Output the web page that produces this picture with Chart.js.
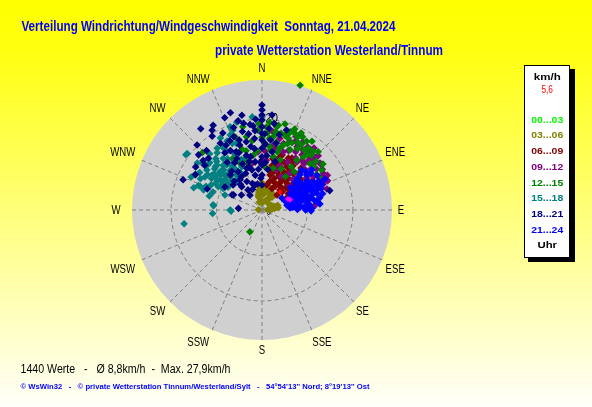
<!DOCTYPE html>
<html>
<head>
<meta charset="utf-8">
<script src="https://cdn.jsdelivr.net/npm/chart.js@4.4.1/dist/chart.umd.min.js"></script>
<style>
  html, body { margin: 0; padding: 0; overflow: hidden; background: #ffff80; }
  canvas { display: block; }
</style>
</head>
<body>
<canvas id="rose" width="592" height="407"></canvas>
<script>
// compass labels, ring ticks, outer edge of the rose in km/h
const directionLabels = ["N","NNE","NE","ENE","E","ESE","SE","SSE","S","SSW","SW","WSW","W","WNW","NW","NNW"];
const ringTicks = [10, 20];
const scaleMax = 28.6;

// legend (3-hour blocks) and current value
const timeLabels = ["00...03","03...06","06...09","09...12","12...15","15...18","18...21","21...24"];
const currentValue = "5,6";

// minute samples: [direction in degrees, speed km/h]
const h00_03 = [[72,2.4],[78,2.8],[68,2.1]];
const h03_06 = [[0,6.0],[358,5.5],[355,5.0],[352,4.5],[350,4.0],[348,3.5],[345,3.0],[350,2.5],[2,4.2],[5,3.5],
  [10,4.6],[15,4.9],[20,5.2],[25,4.4],[28,3.8],[30,3.0],[22,2.4],[35,2.0],[60,2.2],[70,2.6],[75,3.0],[78,3.3],
  [82,3.6],[80,2.0],[85,1.6],[88,1.2],[275,0.8],[340,1.8],[0,1.5],[40,4.2],[38,3.6],[8,5.3],[3,5.1],
  [1,5.7],[357,4.8],[354,4.2],[351,3.8],[347,3.2],[358,3.4],[12,4.0],[18,4.5],[24,4.9],[33,3.3],[76,2.4],
  [83,2.8],[73,3.6],[86,2.2]];
const h06_09 = [[13,10.1],[22,9.0],[34,7.9],[36,9.5],[50,8.6],[49,10.1],[42,5.9],[23,6.7],[35,10.7],[25,11.6],
  [13,7.9],[61,10.0],[65,7.8],[64,6.1],[45,4.7],[11,5.6],[45,11.8],[32,12.4],[56,11.9],[20,12.9],[28,8.2],
  [40,9.0],[55,9.5],[30,11.0],[18,10.5],[47,7.2],[58,6.8],
  [10,9.0],[12,11.5],[15,6.5],[16,8.6],[18,12.0],[21,7.4],[24,10.2],[26,8.5],[27,12.8],[29,6.0],[31,9.6],
  [33,7.0],[35,11.9],[38,8.2],[39,6.6],[41,10.6],[43,12.6],[44,8.0],[46,9.8],[48,6.0],[52,10.9],[53,7.5],
  [57,8.3],[60,9.0],[62,11.2],[30,13.2],[20,11.0],[25,5.2]];
const h09_12 = [[52,16.4],[62,14.9],[67,14.4],[38,17.1],[44,16.3],[85,11.7],[67,14.6],[8,17.4],[25,17.8],[36,17.1],
  [45,16.5],[13,13.9],[18,15.4],[5,11.0],[0,11.0],[50,8.0],[59,15.7],[44,15.2],[45,12.4],[51,16.4],[27,18.5],
  [20,13.6],[348,10.5],[36,13.1],[38,16.4],[37,10.1],[59,11.4],[61,15.3],[20,9.4],[30,14.8],[42,13.8],[55,13.5],[28,12.0],
  [22,16.2],[24,14.3],[26,16.8],[29,15.9],[31,17.5],[33,13.6],[34,16.0],[36,15.0],[39,14.0],[40,17.8],[41,15.8],
  [43,14.6],[46,17.2],[47,13.0],[48,15.6],[50,14.2],[53,15.0],[54,12.2],[56,16.0],[57,13.6],[60,12.6],[62,16.3],
  [64,13.2],[66,15.8],[70,14.0],[72,15.0],[10,14.5],[14,16.2],[3,13.0],[16,11.5],[356,12.8],
  [30,8.5],[22,10.5],[45,9.5]];
const h12_15 = [[17,28.7],[209,5.5],[314,18.2],[3,18.3],[10,17.5],[23,18.4],[28,16.8],[36,18.7],[41,17.1],[56,15.8],
  [57,14.3],[20,16.8],[18,15.0],[7,14.0],[12,12.0],[25,14.6],[38,14.8],[46,14.7],[35,13.4],[4,9.5],[351,12.2],
  [344,10.7],[335,11.3],[71,8.9],[65,10.4],[20,11.7],[17,17.2],[357,17.6],[347,18.8],[45,12.4],[34,11.5],[27,19.0],
  [20,18.3],[10,18.6],[30,15.6],[15,13.2],[342,14.0],[330,13.0],[329,9.0],[340,11.7],
  [0,16.0],[2,14.8],[4,17.0],[5,19.3],[6,15.8],[8,13.2],[9,16.4],[11,19.0],[12,15.2],[14,17.4],[15,19.6],
  [16,14.2],[19,17.8],[21,15.6],[22,19.2],[24,16.2],[26,17.8],[29,18.4],[31,16.8],[33,18.0],[35,16.2],[37,17.0],
  [39,15.8],[42,16.2],[44,17.8],[48,16.0],[50,14.8],[53,16.8],[60,14.5],[352,15.4],[355,13.0],[348,16.5],
  [340,17.0],[345,13.5],[358,19.0],[25,10.0],[35,9.0],[15,9.5],[40,11.0]];
const h15_18 = [[0,20.5],[354,20.6],[306,20.7],[306,17.6],[291,15.0],[306,13.2],[317,14.6],[323,14.2],[339,19.6],[340,18.7],
  [337,17.9],[330,18.3],[329,15.0],[324,16.8],[317,16.9],[313,14.0],[312,12.5],[305,10.8],[322,12.6],[325,11.1],
  [320,8.6],[292,8.8],[276,10.8],[270,7.0],[266,10.9],[291,14.6],[289,13.6],[335,10.5],[345,11.8],[339,15.7],
  [306,15.0],[302,13.1],[298,10.9],[308,9.4],[260,17.4],[268,6.8],[275,10.7],[307,20.6],[344,20.1],[315,12.4],
  [315,10.9],[315,14.0],[326,11.9],[305,13.4],[302,10.4],[309,15.6],[304,11.9],[315,9.3],[298,16.6],[310,12.0],
  [320,13.0],[300,14.5],[285,12.0],[330,9.5],
  [296,12.5],[297,15.2],[299,9.8],[300,11.8],[301,16.0],[303,14.3],[304,9.0],[306,11.0],[307,12.8],[308,16.5],
  [310,10.5],[311,13.8],[312,15.5],[313,11.2],[314,8.5],[316,12.2],[317,10.2],[318,15.2],[319,13.0],[321,11.2],
  [322,16.0],[324,9.6],[326,13.6],[327,10.6],[328,16.2],[331,12.2],[333,17.0],[334,13.8],[336,16.0],[338,12.0],
  [290,11.5],[293,13.4],[288,15.8],[295,17.2]];
const h18_21 = [[0,23.1],[0,22.0],[342,22.5],[338,21.9],[348,21.3],[323,22.4],[330,21.5],[328,20.7],[348,19.5],[354,18.6],
  [0,20.9],[0,19.8],[0,18.3],[0,16.9],[0,15.4],[0,13.6],[0,11.7],[0,9.9],[0,7.7],[0,5.5],[354,15.8],[353,13.6],
  [352,10.7],[349,7.8],[347,15.4],[344,12.5],[340,9.8],[332,7.1],[341,15.1],[334,12.6],[328,9.9],[319,6.8],
  [339,17.3],[331,16.3],[328,17.3],[317,17.9],[310,16.9],[314,16.4],[291,18.6],[298,16.6],[308,16.0],[318,10.4],
  [311,8.4],[298,7.1],[274,5.2],[306,5.6],[321,4.2],[302,9.6],[74,15.5],[17,18.4],[13,17.0],[5,18.0],[7,15.5],
  [344,5.7],[325,5.4],[324,8.2],[297,7.4],[346,9.1],[291,12.9],[5,12.0],[8,9.0],[3,14.5],[350,17.0],[336,14.0],
  [345,11.0],[358,10.5],[10,13.0],
  [356,20.0],[355,17.5],[352,19.0],[350,14.2],[348,12.0],[346,17.8],[345,20.3],[343,9.8],[342,16.2],[341,19.2],
  [338,13.6],[337,11.0],[336,8.8],[335,16.8],[333,19.0],[332,14.8],[330,12.0],[328,8.6],[327,15.0],[326,19.6],
  [324,13.0],[322,10.8],[316,8.8],[315,20.2],[311,18.5],[303,17.4],[358,7.0],[355,9.0],[350,5.8],[340,6.2],
  [2,16.8],[4,10.5],[8,19.2],[12,15.0],[15,11.0],[6,21.0],[335,5.0],[320,7.4]];
const h21_24 = [[72,6.9],[67,8.4],[73,9.2],[68,10.6],[73,11.5],[70,12.9],[84,10.6],[59,10.7],[54,10.4],[67,14.3],
  [64,15.4],[91,10.8],[79,5.6],[56,7.9],[48,10.4],[52,12.5],[62,13.0],[59,5.1],[86,6.2],[82,8.0],[78,13.0],
  [58,14.3],[51,14.1],[45,12.4],[87,9.9],[74,7.9],[71,5.7],[78,10.4],[81,12.2],[65,11.0],[76,9.5],[62,8.8],
  [69,7.3],[55,9.0],[80,7.0],[66,12.0],[75,13.8],[85,8.5],
  [47,11.5],[50,9.5],[52,8.0],[53,13.4],[57,11.8],[58,9.8],[60,7.2],[61,12.5],[63,10.0],[63,14.0],[64,8.2],
  [66,6.5],[68,9.4],[69,11.8],[70,13.8],[71,8.6],[72,10.2],[73,12.6],[75,6.2],[76,11.2],[77,8.9],
  [79,9.8],[80,11.8],[81,7.6],[83,10.2],[84,12.8],[85,6.8],[86,9.2],[88,11.0],[89,7.8],[90,9.6],[66,13.2],
  [62,11.4],[56,10.0],[49,12.8],[68,5.4],[77,6.0]];
const lastHour = [[67,6.2],[70,6.6]];
const currentPoint = [[45,5.6]];

const series = [h00_03, h03_06, h06_09, h09_12, h12_15, h15_18, h18_21, h21_24];
const seriesColors = ["#00ff00","#808000","#800000","#800080","#008000","#008080","#000080","#0000ff"];

function toXY(list) {
  return list.map(([dir, v]) => ({
    x: v * Math.sin(dir * Math.PI / 180),
    y: v * Math.cos(dir * Math.PI / 180)
  }));
}

// text with horizontal squeeze, the original uses a narrow face
function text(ctx, str, x, y, font, color, align, opt) {
  opt = opt || {};
  ctx.save();
  ctx.font = font;
  ctx.fillStyle = color;
  ctx.textBaseline = opt.baseline || "alphabetic";
  let sx = opt.sx || 1;
  if (opt.width) sx = opt.width / ctx.measureText(str).width;
  ctx.translate(x, y);
  ctx.scale(sx, 1);
  ctx.textAlign = align;
  ctx.fillText(str, 0, 0);
  ctx.restore();
}

const rosePlugin = {
  id: "rose",
  beforeDraw(chart) {
    const ctx = chart.ctx;
    const W = chart.width, H = chart.height;
    const g = ctx.createLinearGradient(0, 0, 0, H);
    g.addColorStop(0, "#ffff00");
    g.addColorStop(0.12, "#ffff10");
    g.addColorStop(1, "#fffffa");
    ctx.fillStyle = g;
    ctx.fillRect(0, 0, W, H);

    // headings
    text(ctx, "Verteilung Windrichtung/Windgeschwindigkeit  Sonntag, 21.04.2024", 21.5, 31, "bold 14px 'Liberation Sans', Arial", "#0000ff", "left", {width: 374});
    text(ctx, "private Wetterstation Westerland/Tinnum", 215, 55, "bold 14px 'Liberation Sans', Arial", "#0000ff", "left", {width: 228});
    text(ctx, "1440 Werte   -   \u00d8 8,8km/h  -  Max. 27,9km/h", 20.5, 373, "12px 'Liberation Sans', Arial", "#000000", "left", {width: 210});
    text(ctx, "\u00a9 WsWin32   -   \u00a9 private Wetterstation Tinnum/Westerland/Sylt   -   54\u00b054'13'' Nord; 8\u00b019'13'' Ost", 20.5, 389, "bold 8px 'Liberation Sans', Arial", "#0000ff", "left", {width: 349});

    // legend box with shadow
    ctx.fillStyle = "#000000";
    ctx.fillRect(528, 69, 47, 193);
    ctx.fillStyle = "#ffffff";
    ctx.fillRect(524, 65, 46, 193);
    ctx.strokeStyle = "#000000";
    ctx.lineWidth = 1;
    ctx.strokeRect(524.5, 65.5, 45, 192);
    const lx = 547.2;
    text(ctx, "km/h", lx, 79.5, "bold 9px 'Liberation Sans', Arial", "#000000", "center", {width: 27});
    text(ctx, currentValue, lx, 93, "10px 'Liberation Sans', Arial", "#ff0000", "center", {width: 11.5});
    timeLabels.forEach((t, i) => {
      text(ctx, t, lx, 122.7 + 15.7 * i, "bold 9px 'Liberation Sans', Arial", seriesColors[i], "center", {width: 32});
    });
    text(ctx, "Uhr", lx, 248.3, "bold 9px 'Liberation Sans', Arial", "#000000", "center", {width: 19.5});

    // polar grid through the chart's own scales
    const xs = chart.scales.x, ys = chart.scales.y;
    const cx = xs.getPixelForValue(0), cy = ys.getPixelForValue(0);
    const px = v => xs.getPixelForValue(v) - cx;
    const R = px(scaleMax);
    ctx.fillStyle = "#d0d0d0";
    ctx.beginPath();
    ctx.arc(cx, cy, R, 0, Math.PI * 2);
    ctx.fill();

    ctx.save();
    ctx.strokeStyle = "#808080";
    ctx.lineWidth = 1;
    ctx.setLineDash([4, 3]);
    ringTicks.forEach(t => {
      ctx.beginPath();
      ctx.arc(cx, cy, px(t), 0, Math.PI * 2);
      ctx.stroke();
    });
    directionLabels.forEach((d, i) => {
      const a = i * Math.PI / 8;
      ctx.beginPath();
      ctx.moveTo(cx, cy);
      ctx.lineTo(cx + R * Math.sin(a), cy - R * Math.cos(a));
      ctx.stroke();
    });
    ctx.restore();

    directionLabels.forEach((d, i) => {
      const a = i * Math.PI / 8;
      const s = Math.sin(a), c = Math.cos(a);
      let x = cx + (R + 12) * s, y = cy - (R + 12) * c;
      if (i === 4) x -= 3;                                        // E sits a bit closer
      if ([1, 7, 9, 15].includes(i)) x += 5.5 * Math.sign(s);     // next to N/S pushed sideways
      if ([3, 5, 11, 13].includes(i)) y -= 4 * Math.sign(c);      // next to E/W pushed up/down
      if (i === 3 || i === 5) x += 2;
      if (s < -0.1) x -= (i === 11 || i === 13) ? 8 : 4;          // left half sits further out
      if (i === 2 || i === 14) y -= 2;
      if (i === 8) y -= 2;
      text(ctx, d, x, y + 1, "12px 'Liberation Sans', Arial", "#000000", "center", {sx: 0.8, baseline: "middle"});
    });
    text(ctx, "20", cx + 3.5, cy - px(20) + 3, "12px 'Liberation Sans', Arial", "#000000", "left", {width: 12.5});
    text(ctx, "0", cx + 4.5, cy + 4.5, "12px 'Liberation Sans', Arial", "#000000", "left", {width: 4.5});
  }
};

const datasets = series.map((s, i) => ({
  label: timeLabels[i],
  data: toXY(s),
  backgroundColor: seriesColors[i],
  pointStyle: "rectRot",
  pointRadius: 3.8,
  pointHoverRadius: 3.8,
  borderWidth: 0,
  clip: false,
  order: series.length - i
}));
datasets.push({
  label: "last",
  data: toXY(lastHour),
  backgroundColor: "#ff00ff",
  pointStyle: "rectRot",
  pointRadius: 3,
  borderWidth: 0,
  clip: false,
  order: 0
});
datasets.push({
  label: "now",
  data: toXY(currentPoint),
  backgroundColor: "#ff0000",
  pointStyle: "rectRot",
  pointRadius: 3,
  borderWidth: 0,
  clip: false,
  order: -1
});

new Chart(document.getElementById("rose"), {
  type: "scatter",
  data: { datasets },
  options: {
    responsive: false,
    animation: false,
    events: [],
    layout: { padding: { left: 132, right: 200, top: 80, bottom: 67 } },
    scales: {
      x: { type: "linear", min: -scaleMax, max: scaleMax, display: false },
      y: { type: "linear", min: -scaleMax, max: scaleMax, display: false }
    },
    plugins: {
      legend: { display: false },
      tooltip: { enabled: false }
    }
  },
  plugins: [rosePlugin]
});
</script>
</body>
</html>
